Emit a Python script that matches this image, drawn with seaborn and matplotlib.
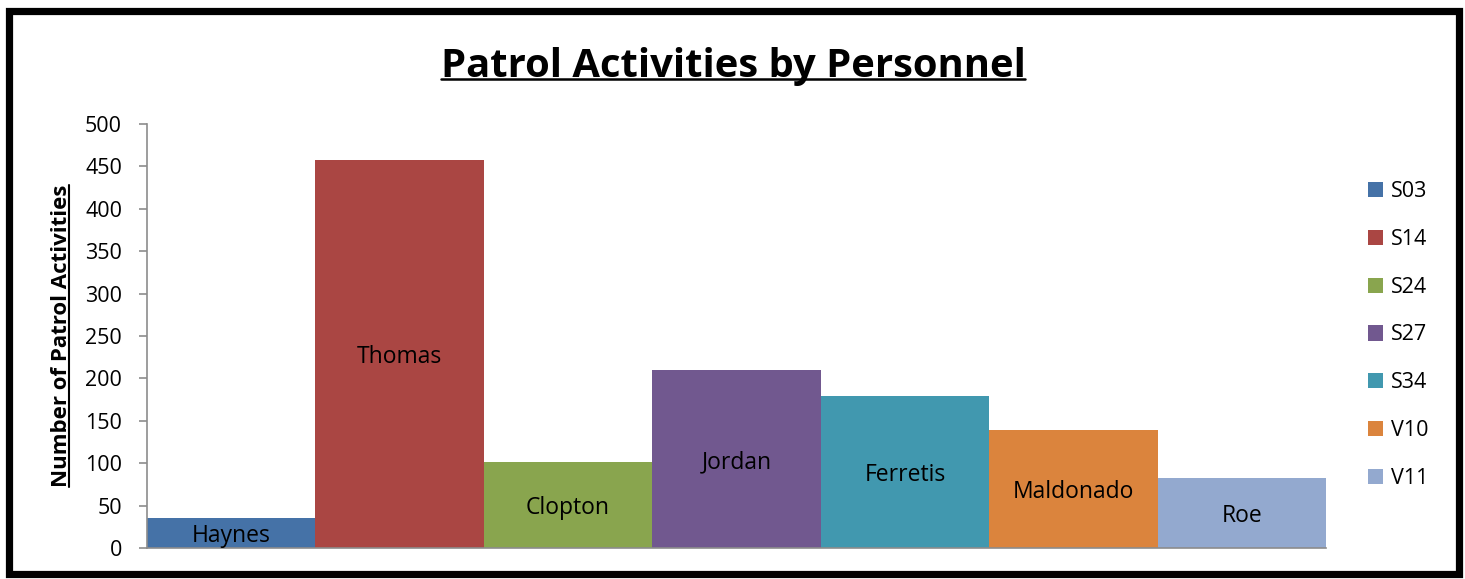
import matplotlib
matplotlib.use("Agg")
import matplotlib.pyplot as plt
import seaborn as sns
import pandas as pd
from matplotlib.patches import Rectangle
from matplotlib.lines import Line2D

names = ["Haynes", "Thomas", "Clopton", "Jordan", "Ferretis", "Maldonado", "Roe"]
codes = ["S03", "S14", "S24", "S27", "S34", "V10", "V11"]
values = [35, 458, 102, 210, 179, 139, 82]
colors = ["#4572A7", "#AA4643", "#89A54E", "#71588F", "#4198AF", "#DB843D", "#93A9CF"]
yticks = [0, 50, 100, 150, 200, 250, 300, 350, 400, 450, 500]

sns.set_theme(style="white")
plt.rcParams["font.family"] = ["Open Sans", "DejaVu Sans"]
plt.rcParams["text.color"] = "black"
plt.rcParams["axes.labelcolor"] = "black"
plt.rcParams["ytick.color"] = "black"

W, H = 1465, 579
fig = plt.figure(figsize=(W / 100, H / 100), dpi=100)
ax = fig.add_axes([147 / W, 1 - 548 / H, (1326 - 147) / W, (548 - 124) / H])

df = pd.DataFrame({"name": names, "code": codes, "value": values})
sns.barplot(data=df, x="name", y="value", hue="code", palette=colors,
            dodge=False, width=1.0, saturation=1.0, ax=ax, legend=True,
            linewidth=0)

for i, (n, v) in enumerate(zip(names, values)):
    ax.text(i, v / 2, n, ha="center", va="center_baseline", fontsize=16.5, color="black")

ax.set_xlim(-0.5, len(names) - 0.5)
ax.set_ylim(0, 500)
ax.set_yticks(yticks)
ax.set_yticklabels([str(t) for t in yticks], fontsize=15.5, color="black")
ax.set_xticks([])
ax.set_xlabel("")
ax.set_ylabel("Number of Patrol Activities", fontsize=16, fontweight="bold",
              labelpad=9, color="black")
for s in ["top", "right"]:
    ax.spines[s].set_visible(False)
for s in ["left", "bottom"]:
    ax.spines[s].set_color("#8C8C8C")
    ax.spines[s].set_linewidth(1.2)
ax.tick_params(axis="y", which="major", direction="out", length=6, width=1.2,
               color="#8C8C8C", labelcolor="black", left=True, pad=12)

handles, labels = ax.get_legend_handles_labels()
leg = ax.legend(handles, labels, loc="center left", bbox_to_anchor=(1368 / W, 1 - 335 / H),
                bbox_transform=fig.transFigure, frameon=False, fontsize=15.5,
                handlelength=0.7, handleheight=0.7, handletextpad=0.35,
                labelspacing=1.25, borderpad=0, borderaxespad=0)
for t in leg.get_texts():
    t.set_color("black")

title = fig.text(733 / W, 1 - 66 / H, "Patrol Activities by Personnel", ha="center",
                 va="center", fontsize=28.8, fontweight="bold", color="black")

# outer black frame
fig.patches.append(Rectangle((8.5 / W, 1 - 574 / H), (1458.5 - 8.5) / W, (574 - 11) / H,
                             transform=fig.transFigure, fill=False, edgecolor="black",
                             linewidth=5.2, zorder=10))

# underlines
fig.canvas.draw()
r = fig.canvas.get_renderer()
tb = title.get_window_extent(r)
yl = tb.y0 + 0.17 * tb.height
fig.add_artist(Line2D([tb.x0 / W, tb.x1 / W], [yl / H, yl / H], transform=fig.transFigure,
                      color="black", linewidth=1.8))
lb = ax.yaxis.label.get_window_extent(r)
xl = lb.x1 - 0.17 * lb.width
fig.add_artist(Line2D([xl / W, xl / W], [lb.y0 / H, lb.y1 / H], transform=fig.transFigure,
                      color="black", linewidth=1.5))

fig.savefig("out.png", dpi=100)
